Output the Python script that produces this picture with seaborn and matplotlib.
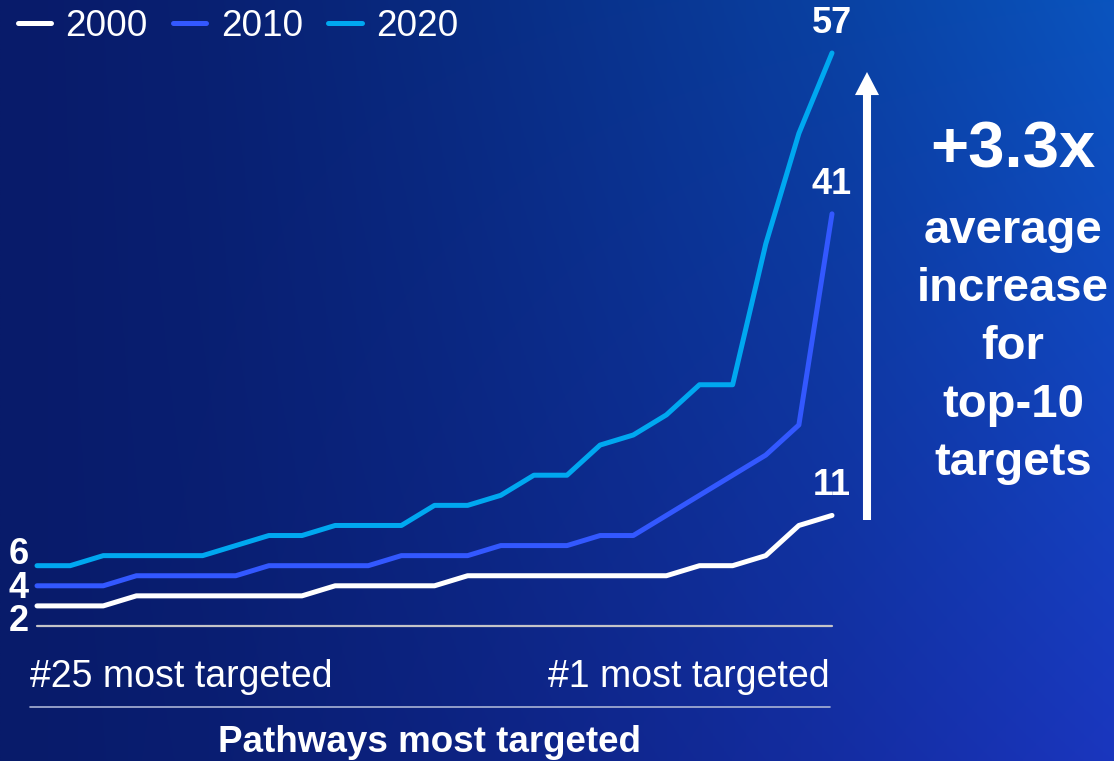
import numpy as np
import pandas as pd
import seaborn as sns
import matplotlib.pyplot as plt
from matplotlib.patches import FancyArrowPatch, ArrowStyle
from matplotlib.lines import Line2D

# Number of approved drugs per pathway, ranked #25 (left) to #1 (right)
years = ["2000", "2010", "2020"]
values_2000 = [2, 2, 2, 3, 3, 3, 3, 3, 3, 4, 4, 4, 4, 5, 5, 5, 5, 5, 5, 5, 6, 6, 7, 10, 11]
values_2010 = [4, 4, 4, 5, 5, 5, 5, 6, 6, 6, 6, 7, 7, 7, 8, 8, 8, 9, 9, 11, 13, 15, 17, 20, 41]
values_2020 = [6, 6, 7, 7, 7, 7, 8, 9, 9, 10, 10, 10, 12, 12, 13, 15, 15, 18, 19, 21, 24, 24, 38, 49, 57]
rank_labels = ["#25 most targeted", "#1 most targeted"]
axis_title = "Pathways most targeted"
headline = "+3.3x"
callout_lines = ["average", "increase", "for", "top-10", "targets"]

line_colors = {"2000": "#ffffff", "2010": "#3358ff", "2020": "#00a8f0"}

sns.set_theme(style="white")
plt.rcParams["font.family"] = ["Liberation Sans", "DejaVu Sans"]

W, H = 1114, 761
fig = plt.figure(figsize=(W / 100, H / 100), dpi=100)


def fx(px):
    return px / W


def fy(py):
    return 1 - py / H


# Background: dark navy on the left fading into a brighter blue on the right
bg = fig.add_axes([0, 0, 1, 1], zorder=0)
bg.axis("off")
xs = np.linspace(0, 1, 400)
ys = np.linspace(0, 1, 300)
X, Y = np.meshgrid(xs, ys)
left = np.array([8, 27, 106]) / 255
right_top = np.array([10, 84, 190]) / 255
right_bot = np.array([26, 54, 190]) / 255
t = (X ** 1.4)[..., None]
v = Y[..., None]
right = right_top * (1 - v) + right_bot * v
img = left * (1 - t) + right * t
bg.imshow(img, aspect="auto", extent=[0, 1, 0, 1], origin="upper")
bg.set_xlim(0, 1)
bg.set_ylim(0, 1)

# Main chart area
ax = fig.add_axes([fx(37), fy(626), fx(832) - fx(37), (626 - 53) / H], zorder=1)
ax.patch.set_alpha(0)

series = {"2000": values_2000, "2010": values_2010, "2020": values_2020}
df = pd.concat(
    [pd.DataFrame({"rank": np.arange(len(vals)), "count": vals, "year": yr})
     for yr, vals in series.items()],
    ignore_index=True,
)

sns.lineplot(data=df, x="rank", y="count", hue="year", hue_order=years,
             palette=line_colors, linewidth=3.6, ax=ax, legend=True)
for ln in ax.get_lines():
    ln.set_clip_on(False)
    ln.set_solid_capstyle("round")
    ln.set_solid_joinstyle("round")

ax.set_xlim(0, len(values_2000) - 1)
ax.set_ylim(0, 57)
ax.axhline(0, color="#c4c4c8", lw=1.6, clip_on=False, zorder=0.5)
ax.axis("off")

# Start-value labels on the left, spread apart so they don't collide
start_offsets = {"2000": -25, "2010": -12, "2020": 2}
for yr in years:
    ax.annotate(str(series[yr][0]), xy=(0, series[yr][0]), xytext=(-8, start_offsets[yr]),
                textcoords="offset pixels", ha="right", va="baseline",
                color="white", fontsize=26, fontweight="bold", annotation_clip=False)

# End-value labels above each line's last point
last = len(values_2000) - 1
for yr in years:
    ax.annotate(str(series[yr][-1]), xy=(last, series[yr][-1]), xytext=(0, 20),
                textcoords="offset pixels", ha="center", va="baseline",
                color="white", fontsize=26, fontweight="bold", annotation_clip=False)

# Legend across the top-left
handles, labels = ax.get_legend_handles_labels()
if ax.get_legend() is not None:
    ax.get_legend().remove()
leg = fig.legend(handles, labels, loc="upper left", bbox_to_anchor=(fx(17.5), fy(9)),
                 ncol=3, frameon=False, fontsize=26.6, labelcolor="white",
                 handlelength=0.9, handletextpad=0.4, columnspacing=0.68,
                 borderpad=0, borderaxespad=0)
for ln in leg.get_lines():
    ln.set_linewidth(3.6)
    ln.set_solid_capstyle("round")

# Rank labels, separator and axis title beneath the chart
fig.text(fx(30), fy(687), rank_labels[0], ha="left", va="baseline",
         color="white", fontsize=27)
fig.text(fx(830), fy(687), rank_labels[1], ha="right", va="baseline",
         color="white", fontsize=27)
fig.add_artist(Line2D([fx(30), fx(830)], [fy(707), fy(707)], transform=fig.transFigure,
                      color="#a9b3d6", lw=1.2))
fig.text(fx(430), fy(752), axis_title, ha="center", va="baseline",
         color="white", fontsize=26.5, fontweight="bold")

# Upward arrow and callout on the right
arrow = FancyArrowPatch(posA=(fx(867), fy(520)), posB=(fx(867), fy(72)),
                        transform=fig.transFigure,
                        arrowstyle=ArrowStyle.Simple(head_length=16.6, head_width=17.3,
                                                     tail_width=5.8),
                        mutation_scale=1, color="white", lw=0, shrinkA=0, shrinkB=0)
fig.add_artist(arrow)

fig.text(fx(1013), fy(167), headline, ha="center", va="baseline",
         color="white", fontsize=47, fontweight="bold")
for i, word in enumerate(callout_lines):
    fig.text(fx(1013), fy(243 + 58 * i), word, ha="center", va="baseline",
             color="white", fontsize=34, fontweight="bold")

fig.savefig("out.png", dpi=100)
